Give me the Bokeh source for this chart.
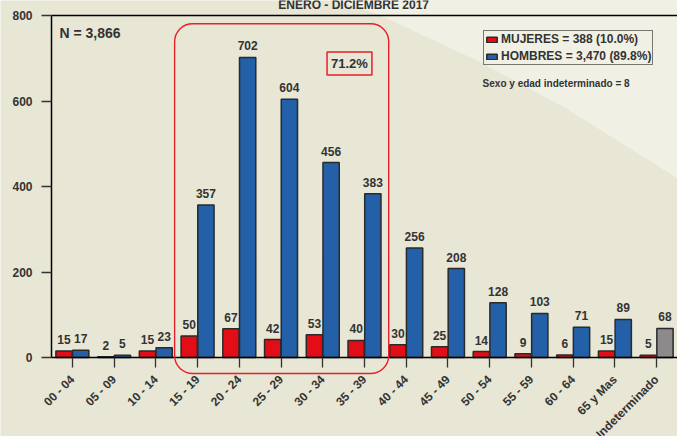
import math
from bokeh.plotting import figure
from bokeh.models import (ColumnDataSource, Range1d, LabelSet, Label,
                          BoxAnnotation, Legend, LegendItem, FixedTicker)
from bokeh.core.properties import value
from bokeh.transform import dodge
from bokeh.embed import file_html
from bokeh.resources import INLINE

# ---------------- data ----------------
categories = ["00 - 04", "05 - 09", "10 - 14", "15 - 19", "20 - 24", "25 - 29",
              "30 - 34", "35 - 39", "40 - 44", "45 - 49", "50 - 54", "55 - 59",
              "60 - 64", "65 y Mas", "Indeterminado"]
mujeres = [15, 2, 15, 50, 67, 42, 53, 40, 30, 25, 14, 9, 6, 15, 5]
hombres = [17, 5, 23, 357, 702, 604, 456, 383, 256, 208, 128, 103, 71, 89, 68]
y_ticks = [0, 200, 400, 600, 800]
title_text = "ENERO - DICIEMBRE 2017"
n_text = "N = 3,866"
legend_labels = ["MUJERES = 388 (10.0%)", "HOMBRES = 3,470 (89.8%)"]
note_text = "Sexo y edad indeterminado = 8"
highlight_text = "71.2%"

# ---------------- styles ----------------
FONT = "Liberation Sans"
TEXT = "#333333"
DARK_BG = "#E8E6D4"
LIGHT_BG = "#F1F0E5"
RED = "#E30D17"
BLUE = "#2360A8"
GRAY = "#8C8A8A"
OUTLINE = "#2A2A2A"
HL_RED = "#E8202A"
hombres_colors = [BLUE] * (len(categories) - 1) + [GRAY]

n_cat = len(categories)
centers = [i + 0.5 for i in range(n_cat)]   # category slot centres

src = ColumnDataSource(dict(
    xc=centers, cat=categories, muj=mujeres, hom=hombres, hcol=hombres_colors,
    muj_txt=[str(v) for v in mujeres], hom_txt=[str(v) for v in hombres],
))

p = figure(width=677, height=436,
           x_range=Range1d(-1.2221, n_cat),
           y_range=Range1d(-184.8, 835.1),
           output_backend="svg", toolbar_location=None,
           min_border_left=0, min_border_right=0, min_border_top=0,
           min_border_bottom=0)
p.background_fill_color = DARK_BG
p.border_fill_color = DARK_BG
p.outline_line_color = None
p.xgrid.visible = False
p.ygrid.visible = False

# lighter diagonal area of the background (upper right)
p.patch([6.86, 7.89, 10.19, 12.21, 15.01, 15.01], [835.1, 800, 694.7, 589.5, 418.7, 835.1],
        fill_color=LIGHT_BG, line_color=None)

# top frame line
p.segment(x0=[0], y0=[y_ticks[-1]], x1=[n_cat], y1=[y_ticks[-1]],
          line_color="black", line_width=1.5)

r_m = p.vbar(x=dodge("xc", -0.2), top="muj", width=0.39, source=src,
             fill_color=RED, line_color=OUTLINE, line_width=1.5)
r_h = p.vbar(x=dodge("xc", 0.2), top="hom", width=0.39, source=src,
             fill_color="hcol", line_color=OUTLINE, line_width=1.5)

lab_kw = dict(text_font=value(FONT), text_font_size="12px", text_font_style="bold",
              text_color=TEXT, text_align="center", text_baseline="alphabetic", y_offset=7)
p.add_layout(LabelSet(x=dodge("xc", -0.2), y="muj", text="muj_txt", source=src, **lab_kw))
p.add_layout(LabelSet(x=dodge("xc", 0.2), y="hom", text="hom_txt", source=src, **lab_kw))

# highlight box around 15-39
p.add_layout(BoxAnnotation(left=2.95, right=8.08, top=780.6, bottom=-37.4,
                           fill_color=None, fill_alpha=0, line_color=HL_RED,
                           line_alpha=1, line_width=1.4, border_radius=18))
p.add_layout(Label(x=7.14, y=688, text=highlight_text, text_align="center",
                   text_baseline="middle", text_font=FONT, text_font_size="13px",
                   text_font_style="bold", text_color=TEXT,
                   border_line_color=HL_RED, border_line_width=1.5, padding=4))

p.add_layout(Label(x=7.24, y=825, text=title_text, text_align="center",
                   text_baseline="alphabetic", text_font=FONT, text_font_size="12px",
                   text_font_style="bold", text_color=TEXT))
p.add_layout(Label(x=0.19, y=760, text=n_text, text_align="left", text_baseline="middle",
                   text_font=FONT, text_font_size="14px", text_font_style="bold",
                   text_color=TEXT))
p.add_layout(Label(x=10.33, y=640, text=note_text, text_align="left",
                   text_baseline="middle", text_font=FONT, text_font_size="10px",
                   text_font_style="bold", text_color=TEXT))

legend = Legend(items=[LegendItem(label=legend_labels[0], renderers=[r_m], index=0),
                       LegendItem(label=legend_labels[1], renderers=[r_h], index=0)],
                location=(483, 371))
legend.border_line_color = "black"
legend.border_line_width = 1.5
legend.background_fill_color = LIGHT_BG
legend.background_fill_alpha = 1
legend.glyph_width = 13
legend.glyph_height = 7
legend.label_height = 14
legend.label_text_font = FONT
legend.label_text_font_size = "12px"
legend.label_text_font_style = "bold"
legend.label_text_color = TEXT
legend.label_standoff = 3
legend.padding = 1
legend.spacing = 3
legend.margin = 0
p.add_layout(legend)

# axes
p.yaxis.fixed_location = 0
p.yaxis.ticker = FixedTicker(ticks=y_ticks)
p.yaxis.bounds = (0, y_ticks[-1])
p.yaxis.major_tick_out = 10
p.yaxis.major_tick_in = 0
p.yaxis.minor_tick_line_color = None
p.yaxis.major_label_standoff = 9
p.yaxis.axis_line_color = "black"
p.yaxis.axis_line_width = 1.5
p.yaxis.major_tick_line_color = TEXT
p.yaxis.major_tick_line_width = 1.5
p.yaxis.major_label_text_font = FONT
p.yaxis.major_label_text_font_size = "12px"
p.yaxis.major_label_text_font_style = "bold"
p.yaxis.major_label_text_color = TEXT

p.xaxis.fixed_location = 0
p.xaxis.ticker = FixedTicker(ticks=centers)
p.xaxis.major_label_overrides = {c: name for c, name in zip(centers, categories)}
p.xaxis.bounds = (0, n_cat)
p.xaxis.major_tick_out = 10
p.xaxis.major_tick_in = 0
p.xaxis.minor_tick_line_color = None
p.xaxis.axis_line_color = "black"
p.xaxis.axis_line_width = 1.5
p.xaxis.major_tick_line_color = TEXT
p.xaxis.major_tick_line_width = 1.3
p.xaxis.major_label_orientation = math.pi / 4
p.xaxis.major_label_standoff = 10
p.xaxis.major_label_text_font = FONT
p.xaxis.major_label_text_font_size = "12px"
p.xaxis.major_label_text_font_style = "bold"
p.xaxis.major_label_text_color = TEXT

open("out.html", "w").write(file_html(p, INLINE))
